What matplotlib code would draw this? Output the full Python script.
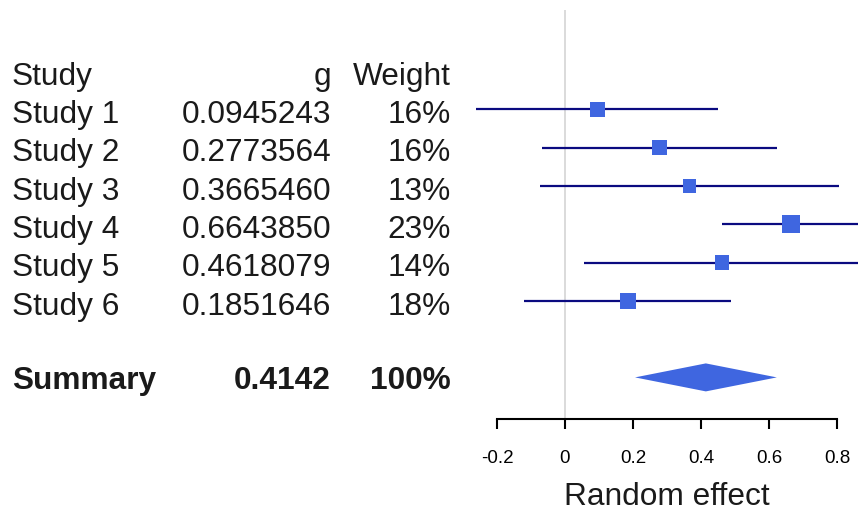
import numpy as np
import matplotlib.pyplot as plt
from matplotlib.transforms import blended_transform_factory

plt.rcParams['font.family'] = ['Liberation Sans', 'DejaVu Sans']

# study-level effects (Hedges g) with confidence limits and weights
studies = ['Study 1', 'Study 2', 'Study 3', 'Study 4', 'Study 5', 'Study 6']
g_values = [0.0945243, 0.2773564, 0.3665460, 0.6643850, 0.4618079, 0.1851646]
ci_lower = [-0.262, -0.069, -0.074, 0.461, 0.056, -0.120]
ci_upper = [0.451, 0.623, 0.806, 0.868, 0.868, 0.488]
weights = [16, 16, 13, 23, 14, 18]

summary_g = 0.4142
summary_lower = 0.206
summary_upper = 0.623
summary_weight = 100

tick_values = [-0.2, 0, 0.2, 0.4, 0.6, 0.8]
tick_labels = ['-0.2', '0', '0.2', '0.4', '0.6', '0.8']

W, H = 858, 512
ROW0, ROW_H = 71, 38.3          # pixel centre of header row, row spacing
ZERO_X, UNIT_X = 565, 340       # pixel of effect 0, pixels per unit effect
AXIS_Y = 419                    # pixel row of the effect axis


def row_at(px):
    return (px - ROW0) / ROW_H


line_col = '#0a0a80'
box_col = '#3f66e0'
txt_col = '#1a1a1a'
fs = 22.8

fig = plt.figure(figsize=(W / 100, H / 100), dpi=100)

# ── text table ──────────────────────────────────────────────────────────
ax_t = fig.add_axes([0, 0, 1, 1])
ax_t.set_xlim(0, W)
ax_t.set_ylim(row_at(H), row_at(0))
ax_t.axis('off')

base = 0.36
kw = dict(fontsize=fs, va='baseline', color=txt_col)
ax_t.text(12, 0 + base, 'Study', ha='left', **kw)
ax_t.text(331, 0 + base, 'g', ha='right', **kw)
ax_t.text(451, 0 + base, 'Weight', ha='right', **kw)
for i, (name, g, w) in enumerate(zip(studies, g_values, weights)):
    r = i + 1
    ax_t.text(12, r + base, name, ha='left', **kw)
    ax_t.text(331, r + base, f'{g:.7f}', ha='right', **kw)
    ax_t.text(451, r + base, f'{w}%', ha='right', **kw)

sum_row = 8
ax_t.text(12, sum_row + 0.3, 'Summary', fontweight='bold', ha='left', **kw)
ax_t.text(331, sum_row + 0.3, f'{summary_g:.4f}', fontweight='bold', ha='right', **kw)
ax_t.text(451, sum_row + 0.3, f'{summary_weight}%', fontweight='bold', ha='right', **kw)

# ── forest panel ────────────────────────────────────────────────────────
left_px = 470
ax = fig.add_axes([left_px / W, (H - AXIS_Y) / H, (W - left_px) / W, AXIS_Y / H])
ax.set_xlim((left_px - ZERO_X) / UNIT_X, (W - ZERO_X) / UNIT_X)
ax.set_ylim(row_at(AXIS_Y), row_at(0))
ax.patch.set_alpha(0)

ax.vlines(0, row_at(AXIS_Y), row_at(10), color='#d4d4d4', lw=1.2, zorder=1)

rows = np.arange(1, len(studies) + 1)
ax.hlines(rows, ci_lower, ci_upper, color=line_col, lw=1.6, zorder=2)
side_pt = 3.75 * np.sqrt(weights) * 0.72
ax.scatter(g_values, rows, marker='s', s=side_pt ** 2, color=box_col,
           linewidths=0, zorder=3)

half_h = 14 / ROW_H
ax.fill([summary_lower, summary_g, summary_upper, summary_g],
        [sum_row, sum_row - half_h, sum_row, sum_row + half_h],
        color=box_col, lw=0, zorder=3)

for side in ['top', 'right', 'left']:
    ax.spines[side].set_visible(False)
ax.spines['bottom'].set_bounds(tick_values[0], tick_values[-1])
ax.spines['bottom'].set_linewidth(1.5)
ax.set_yticks([])
ax.set_xticks(tick_values)
ax.set_xticklabels(tick_labels)
ax.tick_params(axis='x', direction='out', length=7.2, width=1.5,
               pad=15, labelsize=13.5)

ax.set_xlabel('Random effect', fontsize=fs, color=txt_col)
ax.xaxis.label.set_va('center')
ax.xaxis.set_label_coords(0.3, -(497 - AXIS_Y) / AXIS_Y,
                          transform=blended_transform_factory(ax.transData, ax.transAxes))

fig.savefig('out.png', dpi=100)
